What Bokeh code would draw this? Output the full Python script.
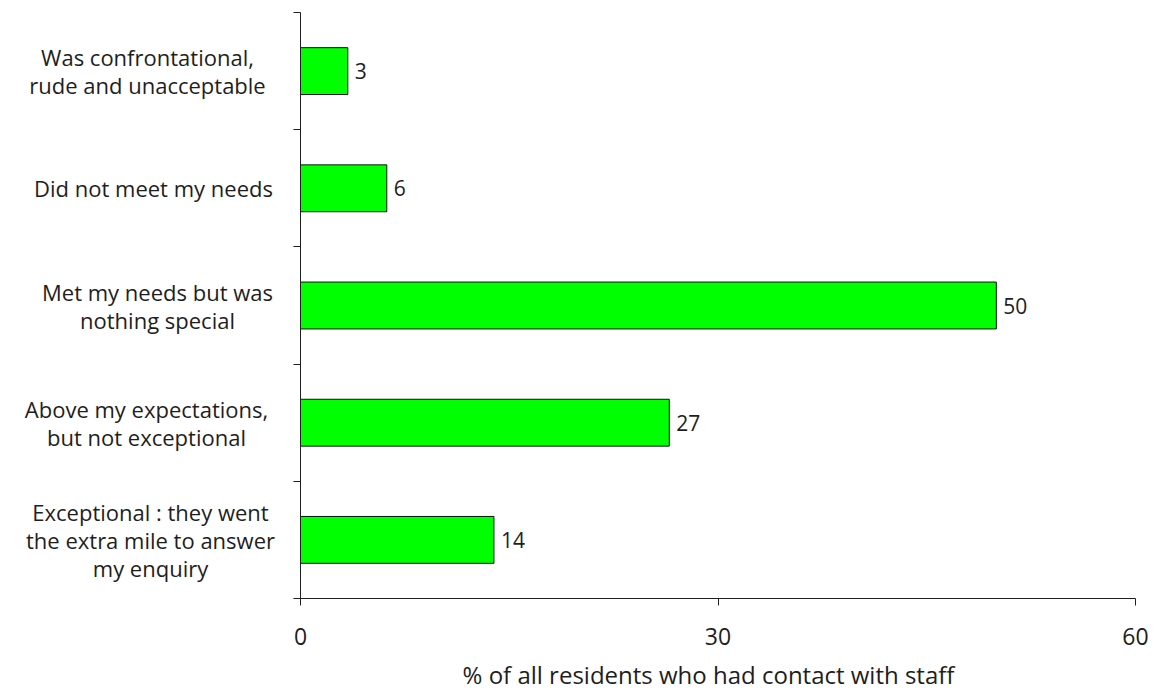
from bokeh.plotting import figure
from bokeh.layouts import row, column
from bokeh.models import ColumnDataSource, FixedTicker, LabelSet
from bokeh.core.properties import value
from bokeh.embed import file_html
from bokeh.resources import INLINE

# ---- data (top to bottom as in the chart) ----
categories = [
    "Was confrontational,\nrude and unacceptable",
    "Did not meet my needs",
    "Met my needs but was\nnothing special",
    "Above my expectations,\nbut not exceptional",
    "Exceptional : they went\nthe extra mile to answer\nmy enquiry",
]
values = [3.4, 6.2, 50.0, 26.5, 13.9]
value_labels = ["3", "6", "50", "27", "14"]
x_ticks = [0, 30, 60]
x_title = "% of all residents who had contact with staff"

n = len(categories)
ypos = [n - i for i in range(n)]

W, H = 1160, 690
TITLE_H = 32
MAIN_H = H - TITLE_H
LEFT_W = 280
TOP, BOTTOM = 12, MAIN_H - 598
FONT = "Open Sans"
INK = "#1e1e1e"

# ---- category label panel ----
centres = [147, 153, 157, 146, 150]
line_h = 28
lx, ly, lt, lo = [], [], [], []
for i, cat in enumerate(categories):
    lines = cat.split("\n")
    k = len(lines)
    for j, ln in enumerate(lines):
        lx.append(centres[i])
        ly.append(ypos[i])
        lt.append(ln)
        lo.append(-((k - 1) / 2 - j) * line_h)
lab_src = ColumnDataSource(dict(x=lx, y=ly, t=lt, o=lo))

left = figure(width=LEFT_W, height=MAIN_H, output_backend="svg", toolbar_location=None,
              x_range=(0, LEFT_W), y_range=(0.5, n + 0.5),
              x_axis_type=None, y_axis_type=None,
              min_border_left=0, min_border_right=0, min_border_top=TOP,
              min_border_bottom=BOTTOM)
left.grid.visible = False
left.outline_line_color = None
left.text(x="x", y="y", text="t", y_offset="o", source=lab_src,
          text_align="center", text_baseline="middle",
          text_font=value(FONT), text_font_size="22px", text_color=INK)

# ---- bar chart ----
src = ColumnDataSource(dict(y=ypos, v=values, lab=value_labels))
p = figure(width=W - LEFT_W, height=MAIN_H, output_backend="svg", toolbar_location=None,
           x_range=(0, 60), y_range=left.y_range,
           min_border_left=20, min_border_right=25, min_border_top=TOP,
           min_border_bottom=BOTTOM)
p.outline_line_color = None
p.grid.visible = False

p.hbar(y="y", right="v", left=0, height=0.4, source=src,
       fill_color="#00FF00", line_color="#111111", line_width=1)

p.add_layout(LabelSet(x="v", y="y", text="lab", source=src, x_offset=7,
                      text_baseline="middle", text_align="left",
                      text_font=value(FONT), text_font_size="21px",
                      text_color=INK))

xa = p.xaxis[0]
xa.ticker = FixedTicker(ticks=x_ticks)
xa.major_tick_out = 7
xa.major_tick_in = 0
xa.minor_tick_out = 0
xa.minor_tick_in = 0
xa.axis_line_color = INK
xa.major_tick_line_color = INK
xa.major_label_text_font = FONT
xa.major_label_text_font_size = "23px"
xa.major_label_text_color = INK
xa.major_label_standoff = 22

ya = p.yaxis[0]
ya.ticker = FixedTicker(ticks=[], minor_ticks=[i + 0.5 for i in range(n + 1)])
ya.major_tick_out = 0
ya.major_tick_in = 0
ya.minor_tick_out = 7
ya.minor_tick_in = 0
ya.axis_line_color = INK
ya.minor_tick_line_color = INK
ya.major_label_standoff = 0

# ---- x-axis title strip ----
tb = figure(width=W, height=TITLE_H, output_backend="svg", toolbar_location=None,
            x_range=(0, W), y_range=(0, TITLE_H),
            x_axis_type=None, y_axis_type=None,
            min_border_left=0, min_border_right=0, min_border_top=0,
            min_border_bottom=0)
tb.grid.visible = False
tb.outline_line_color = None
tb.text(x=[708], y=[16], text=[x_title], text_align="center",
        text_baseline="middle", text_font=value(FONT),
        text_font_size="24px", text_color=INK)

layout = column(row(left, p, spacing=0), tb, spacing=0)
open("out.html", "w").write(file_html(layout, INLINE))
